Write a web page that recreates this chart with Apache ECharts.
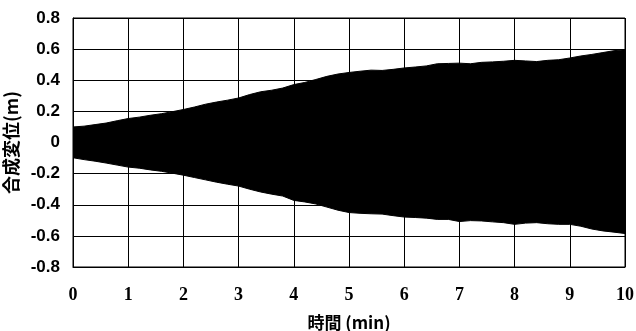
<!DOCTYPE html>
<html>
<head>
<meta charset="utf-8">
<script src="https://cdn.jsdelivr.net/npm/echarts@6/dist/echarts.min.js"></script>
<style>
html,body{margin:0;padding:0;background:#fff;}
#c{width:636px;height:331px;}
</style>
</head>
<body>
<div id="c"></div>
<script>
var timeMin = [0,0.2,0.4,0.6,0.8,1.0,1.2,1.4,1.6,1.8,2.0,2.2,2.4,2.6,2.8,3.0,3.2,3.4,3.6,3.8,4.0,4.2,4.4,4.6,4.8,5.0,5.2,5.4,5.6,5.8,6.0,6.2,6.4,6.6,6.8,7.0,7.2,7.4,7.6,7.8,8.0,8.2,8.4,8.6,8.8,9.0,9.2,9.4,9.6,9.8,10];
var upperEnv = [0.100,0.105,0.115,0.125,0.140,0.154,0.163,0.175,0.185,0.198,0.212,0.228,0.246,0.260,0.272,0.286,0.308,0.326,0.336,0.350,0.372,0.386,0.405,0.425,0.440,0.450,0.458,0.465,0.463,0.470,0.479,0.485,0.492,0.506,0.508,0.510,0.506,0.515,0.518,0.522,0.528,0.524,0.520,0.528,0.532,0.543,0.556,0.566,0.578,0.590,0.596];
var lowerEnv = [-0.098,-0.110,-0.120,-0.132,-0.145,-0.158,-0.165,-0.176,-0.185,-0.197,-0.210,-0.225,-0.240,-0.255,-0.268,-0.280,-0.300,-0.318,-0.332,-0.344,-0.372,-0.382,-0.395,-0.415,-0.435,-0.450,-0.455,-0.458,-0.460,-0.470,-0.479,-0.482,-0.486,-0.494,-0.494,-0.508,-0.502,-0.504,-0.510,-0.515,-0.526,-0.518,-0.515,-0.522,-0.526,-0.526,-0.538,-0.556,-0.568,-0.576,-0.585];
var xTicks = ['0','1','2','3','4','5','6','7','8','9','10'];
var yTicks = ['-0.8','-0.6','-0.4','-0.2','0','0.2','0.4','0.6','0.8'];
var xTitle = '時間 (min)';
var yTitle = '合成変位(m)';

function pairs(ys){ return timeMin.map(function(t,i){ return [t, ys[i]]; }); }

var chart = echarts.init(document.getElementById('c'), null, {renderer:'canvas'});
chart.setOption({
  animation:false,
  backgroundColor:'#fff',
  grid:{left:73,right:11,top:18,bottom:64,containLabel:false,outerBoundsMode:'none',show:true,borderColor:'#000',borderWidth:1,backgroundColor:'transparent'},
  xAxis:{
    type:'value',min:0,max:10,interval:1,
    name:xTitle,nameLocation:'middle',nameGap:47,
    nameTextStyle:{color:'#000',fontSize:17,fontWeight:'bold',fontFamily:'Noto Sans CJK JP'},
    axisLine:{show:true,onZero:false,lineStyle:{color:'#000',width:1}},
    axisTick:{show:false},
    axisLabel:{color:'#000',fontSize:18,fontWeight:'bold',fontFamily:'Liberation Serif',margin:19,
      formatter:function(v){ var i = Math.round(v); return xTicks[i]; }},
    splitLine:{show:true,lineStyle:{color:'#000',width:1}}
  },
  yAxis:{
    type:'value',min:-0.8,max:0.8,interval:0.2,
    name:yTitle,nameLocation:'middle',nameGap:50,nameRotate:90,
    nameTextStyle:{color:'#000',fontSize:18,fontWeight:'bold',fontFamily:'Noto Sans CJK JP'},
    axisLine:{show:true,lineStyle:{color:'#000',width:1}},
    axisTick:{show:false},
    axisLabel:{color:'#000',fontSize:17,fontWeight:'bold',fontFamily:'Liberation Sans',margin:13,
      formatter:function(v){ var i = Math.round((v+0.8)/0.2); return yTicks[i]; }},
    splitLine:{show:true,lineStyle:{color:'#000',width:1}}
  },
  series:[
    {type:'line',data:pairs(upperEnv),showSymbol:false,symbol:'none',
     lineStyle:{color:'#000',width:1},areaStyle:{color:'#000',opacity:1,origin:0}},
    {type:'line',data:pairs(lowerEnv),showSymbol:false,symbol:'none',
     lineStyle:{color:'#000',width:1},areaStyle:{color:'#000',opacity:1,origin:0}}
  ]
});
</script>
</body>
</html>
